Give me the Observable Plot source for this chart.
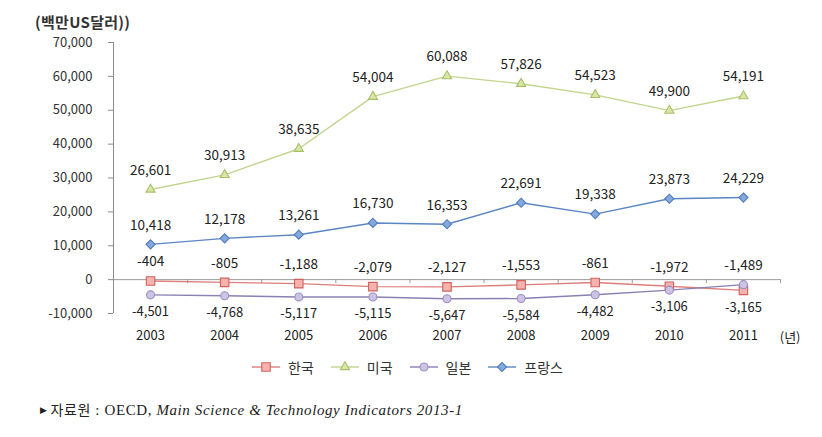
<!DOCTYPE html>
<html><head><meta charset="utf-8">
<script src="https://cdn.jsdelivr.net/npm/d3@7"></script>
<script src="https://cdn.jsdelivr.net/npm/@observablehq/plot@0.6"></script>
<style>
body{margin:0;background:#fff;font-family:"Noto Sans CJK KR","Noto Sans",sans-serif;}
#wrap{position:relative;width:822px;height:437px;overflow:hidden;}
#title{position:absolute;left:35px;top:11px;font-size:15px;font-weight:bold;color:#333;line-height:22px;letter-spacing:0.3px;}
#chart{position:absolute;left:0;top:32px;}
#legend{position:absolute;left:252px;top:356px;display:flex;align-items:center;font-size:14px;color:#333;line-height:22px;}
#legend .item{display:flex;align-items:center;margin-right:17px;}
#legend svg{margin-right:8px;}
#caption{position:absolute;left:40px;top:398px;font-family:"Liberation Serif","DejaVu Serif","Noto Sans CJK KR",serif;font-size:15px;letter-spacing:0.6px;color:#222;line-height:22px;white-space:nowrap;}
#caption .ko{font-family:"Noto Sans CJK KR",sans-serif;font-size:14px;}
#caption .tri{font-size:9px;vertical-align:2px;margin-right:3px;}
</style>
</head><body>
<div id="wrap">
  <div id="title"></div>
  <div id="chart"></div>
  <div id="legend"></div>
  <div id="caption"><span class="tri">▶</span><span class="ko">자료원</span> : OECD, <i>Main Science &amp; Technology Indicators 2013-1</i></div>
</div>
<script>
// ---- data ----
const years = [2003, 2004, 2005, 2006, 2007, 2008, 2009, 2010, 2011];
const korea  = [-404, -805, -1188, -2079, -2127, -1553, -861, -1972, -3165];
const usa    = [26601, 30913, 38635, 54004, 60088, 57826, 54523, 49900, 54191];
const japan  = [-4501, -4768, -5117, -5115, -5647, -5584, -4482, -3106, -1489];
const france = [10418, 12178, 13261, 16730, 16353, 22691, 19338, 23873, 24229];
const seriesNames = ["한국", "미국", "일본", "프랑스"];
const yTicks = [-10000, 0, 10000, 20000, 30000, 40000, 50000, 60000, 70000];
const yUnit = "(백만US달러))";
const xUnit = "(년)";

// ---- styles ----
const styles = {
  "한국":  {line: "#dd7f7b", fill: "#f6b3ae", edge: "#d0625e", symbol: "square",   r: 4.8},
  "미국":  {line: "#c2d48e", fill: "#d9e6a8", edge: "#a9c06a", symbol: "triangle", r: 3.4},
  "일본":  {line: "#8a80b4", fill: "#cdc4e3", edge: "#9a8fc4", symbol: "circle",   r: 4.0},
  "프랑스": {line: "#5a86c2", fill: "#85a9dc", edge: "#4d7cc0", symbol: "diamond2", r: 4.1}
};
const d3Symbols = {square: d3.symbolSquare, triangle: d3.symbolTriangle, circle: d3.symbolCircle, diamond2: d3.symbolDiamond2};

document.getElementById("title").textContent = yUnit;

const valuesBy = {"한국": korea, "미국": usa, "일본": japan, "프랑스": france};
const rows = {};
for (const s of seriesNames) rows[s] = years.map((yr, i) => ({series: s, year: yr, value: valuesBy[s][i], idx: i}));

// label above unless the series is the lower of the two overlapping negative series
function above(d) {
  if (d.series === "한국") return korea[d.idx] >= japan[d.idx];
  if (d.series === "일본") return japan[d.idx] > korea[d.idx];
  return true;
}

const xDomain = [years[0] - 0.5, years[years.length - 1] + 0.5];
const boundaries = years.slice(1).map(y => y - 0.5).concat([xDomain[1]]);
const fmt = d3.formatLocale({decimal: ".", thousands: ",", grouping: [3], currency: ["", ""], minus: "-"}).format(",");

const marks = [
  Plot.ruleY([0], {stroke: "#9a9a9a", strokeWidth: 1}),
  Plot.ruleX(boundaries, {x: d => d, y1: 0, y2: 0, insetTop: 4, stroke: "#9a9a9a"}),
  Plot.ruleX([xDomain[0]], {stroke: "#8c8c8c", strokeWidth: 1}),
  Plot.axisY({ticks: yTicks, tickFormat: fmt, tickSize: 5, tickPadding: 16, label: null, stroke: "#8c8c8c", fill: "#333"}),
  Plot.axisX({ticks: years, tickFormat: d => String(d), tickSize: 0, tickPadding: 17, label: null, fill: "#222"}),
  Plot.text([xUnit], {frameAnchor: "bottom-right", dx: 20, dy: 24, lineAnchor: "middle", fill: "#222", fontSize: 13})
];
for (const s of seriesNames) {
  const st = styles[s];
  marks.push(Plot.line(rows[s], {x: "year", y: "value", stroke: st.line, strokeWidth: 1.4}));
}
for (const s of seriesNames) {
  const st = styles[s];
  marks.push(Plot.dot(rows[s], {x: "year", y: "value", symbol: st.symbol, r: st.r, fill: st.fill, stroke: st.edge, strokeWidth: 1.1}));
  marks.push(Plot.text(rows[s].filter(above), {x: "year", y: "value", text: d => fmt(d.value), dy: -19, fill: "#222", fontSize: 13.5}));
  marks.push(Plot.text(rows[s].filter(d => !above(d)), {x: "year", y: "value", text: d => fmt(d.value), dy: 17, fill: "#222", fontSize: 13}));
}

const plot = Plot.plot({
  width: 822,
  height: 320,
  marginLeft: 113,
  marginRight: 42,
  marginTop: 10,
  marginBottom: 39,
  x: {type: "linear", domain: xDomain},
  y: {domain: [yTicks[0], yTicks[yTicks.length - 1]]},
  style: {fontFamily: "'Noto Sans CJK KR','Noto Sans',sans-serif", fontSize: "13px", color: "#222", background: "#fff"},
  marks
});
document.getElementById("chart").appendChild(plot);

// ---- legend ----
const legend = document.getElementById("legend");
for (const s of seriesNames) {
  const st = styles[s];
  const item = document.createElement("div");
  item.className = "item";
  const sw = d3.create("svg").attr("width", 28).attr("height", 14);
  sw.append("line").attr("x1", 0).attr("x2", 28).attr("y1", 7).attr("y2", 7).attr("stroke", st.line).attr("stroke-width", 1.4);
  sw.append("path").attr("transform", "translate(14,7)").attr("d", d3.symbol(d3Symbols[st.symbol], st.r * st.r * Math.PI)())
    .attr("fill", st.fill).attr("stroke", st.edge).attr("stroke-width", 1.1);
  item.appendChild(sw.node());
  const t = document.createElement("span");
  t.textContent = s;
  item.appendChild(t);
  legend.appendChild(item);
}
</script>
</body></html>
